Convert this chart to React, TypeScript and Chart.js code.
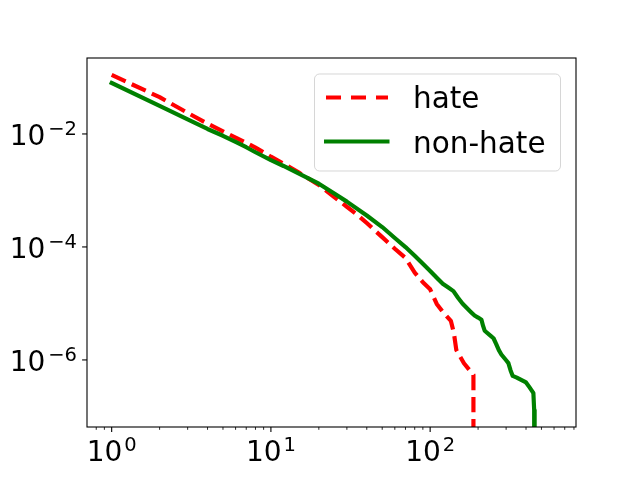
import { useEffect, useRef } from 'react';
import { Chart, registerables } from 'chart.js';

Chart.register(...registerables);

// a zero count: log axis cannot show it, so the line drops off the bottom
const ZERO = 1e-12;

const HATE_X = [1, 2, 3, 4, 5, 6, 7, 8, 10, 12, 15, 20, 25, 30, 35, 40, 50, 60, 70, 80, 90, 100, 110, 120, 135, 141, 146, 163, 187, 187];
const HATE_Y = [
  0.1107, 0.0448, 0.0236, 0.0152, 0.01116, 0.00863, 0.00698, 0.00572,
  0.00396, 0.00298, 0.00207, 0.00125, 7.64e-4, 5.15e-4, 3.68e-4, 2.65e-4,
  1.49e-4, 9.29e-5, 6.38e-5, 3.52e-5, 2.37e-5, 1.78e-5,
  9.8e-6, 7.08e-6, 4.9e-6, 2.97e-6, 1.5e-6, 8.75e-7, 5.43e-7, ZERO,
];

const NONHATE_X = [
  1, 2, 3, 4, 5, 6, 7, 8, 10, 12, 15, 20, 25, 30, 40, 50, 60, 70, 80, 90, 100,
  110, 120, 130, 140, 150, 160, 180, 190, 200, 210, 215, 220, 240, 250, 260, 270, 280,
  300, 310, 320, 330, 350, 400, 420, 440, 445, 450, 453,
];
const NONHATE_Y = [
  0.08, 0.0314, 0.0181, 0.01225, 0.00929, 0.00724, 0.00582, 0.00474,
  0.00343, 0.00271, 0.00198, 0.00132, 8.81e-4, 6.34e-4,
  3.6e-4, 2.25e-4, 1.44e-4, 9.95e-5, 6.98e-5, 5.02e-5, 3.76e-5,
  2.85e-5, 2.23e-5, 1.91e-5, 1.65e-5, 1.25e-5, 9.9e-6,
  7.08e-6, 6.11e-6, 5.62e-6, 5.14e-6, 4.0e-6, 3.29e-6,
  2.67e-6, 2.42e-6, 1.91e-6, 1.49e-6, 1.25e-6,
  9.85e-7, 8.77e-7, 6.52e-7, 5.21e-7, 4.86e-7,
  4.0e-7, 3.3e-7, 2.72e-7, 2.58e-7, 1.3e-7, ZERO,
];

const SERIES_LABELS = ['hate', 'non-hate'];

const X_MIN = 0.724;
const X_MAX = 824;
const Y_MIN = 6.5e-8;
const Y_MAX = 0.221;

const X_MAJOR = [1, 10, 100];
const X_EXP = ['0', '1', '2'];
const X_MINOR = [0.8, 0.9, 2, 3, 4, 5, 6, 7, 8, 9, 20, 30, 40, 50, 60, 70, 80, 90, 200, 300, 400, 500, 600, 700, 800];
const Y_MAJOR = [1e-2, 1e-4, 1e-6];
const Y_EXP = ['\u22122', '\u22124', '\u22126'];

const FAMILY = '"DejaVu Sans", sans-serif';
const BASE_FONT = `28px ${FAMILY}`;
const EXP_FONT = `19.5px ${FAMILY}`;
const LEGEND_FONT = `29.5px ${FAMILY}`;
const RED = '#ff0000';
const GREEN = '#008000';
const LW = 4.17;

const toPoints = (xs: number[], ys: number[]) => xs.map((x, i) => ({ x, y: ys[i] }));

const mplAxes = {
  id: 'mplAxes',
  afterDraw(chart: any) {
    const { ctx, chartArea: a, scales } = chart;
    const sx = scales.x;
    const sy = scales.y;
    ctx.save();

    // frame
    ctx.strokeStyle = '#000';
    ctx.lineWidth = 1.1;
    ctx.strokeRect(a.left, a.top, a.right - a.left, a.bottom - a.top);

    const seg = (x1: number, y1: number, x2: number, y2: number, w: number) => {
      ctx.lineWidth = w;
      ctx.beginPath();
      ctx.moveTo(x1, y1);
      ctx.lineTo(x2, y2);
      ctx.stroke();
    };
    X_MINOR.forEach((v) => {
      const px = sx.getPixelForValue(v);
      seg(px, a.bottom, px, a.bottom + 2.8, 0.85);
    });
    X_MAJOR.forEach((v) => {
      const px = sx.getPixelForValue(v);
      seg(px, a.bottom, px, a.bottom + 4.9, 1.1);
    });
    Y_MAJOR.forEach((v) => {
      const py = sy.getPixelForValue(v);
      seg(a.left, py, a.left - 4.9, py, 1.1);
    });

    // tick labels, 10 with a raised exponent
    ctx.fillStyle = '#000';
    ctx.textBaseline = 'alphabetic';
    ctx.textAlign = 'left';
    ctx.font = BASE_FONT;
    const wBase = ctx.measureText('10').width;
    X_MAJOR.forEach((v, i) => {
      const px = sx.getPixelForValue(v);
      ctx.font = EXP_FONT;
      const wExp = ctx.measureText(X_EXP[i]).width;
      const left = px - (wBase + 2 + wExp) / 2;
      ctx.font = BASE_FONT;
      ctx.fillText('10', left, a.bottom + 34);
      ctx.font = EXP_FONT;
      ctx.fillText(X_EXP[i], left + wBase + 2, a.bottom + 24);
    });
    Y_MAJOR.forEach((v, i) => {
      const py = sy.getPixelForValue(v);
      ctx.font = EXP_FONT;
      const wExp = ctx.measureText(Y_EXP[i]).width;
      const expLeft = a.left - 10 - wExp;
      ctx.fillText(Y_EXP[i], expLeft, py + 1);
      ctx.font = BASE_FONT;
      ctx.fillText('10', expLeft - 3 - wBase, py + 11);
    });

    // legend box
    const bx = 314.5, by = 74, bw = 246, bh = 97, r = 5;
    ctx.beginPath();
    ctx.roundRect(bx, by, bw, bh, r);
    ctx.fillStyle = 'rgba(255,255,255,0.8)';
    ctx.fill();
    ctx.lineWidth = 1;
    ctx.strokeStyle = 'rgba(204,204,204,0.8)';
    ctx.stroke();

    ctx.lineCap = 'butt';
    ctx.lineWidth = LW;
    ctx.strokeStyle = RED;
    ctx.setLineDash([15, 10]);
    ctx.beginPath();
    ctx.moveTo(326, 97.5);
    ctx.lineTo(388, 97.5);
    ctx.stroke();
    ctx.setLineDash([]);
    ctx.strokeStyle = GREEN;
    ctx.beginPath();
    ctx.moveTo(324, 141.5);
    ctx.lineTo(389.5, 141.5);
    ctx.stroke();

    ctx.fillStyle = '#000';
    ctx.font = LEGEND_FONT;
    ctx.fillText(SERIES_LABELS[0], 413, 108);
    ctx.fillText(SERIES_LABELS[1], 413, 152.5);
    ctx.restore();
  },
};

export default function App() {
  const canvasRef = useRef<HTMLCanvasElement>(null);

  useEffect(() => {
    const chart = new Chart(canvasRef.current!, {
      type: 'line',
      data: {
        datasets: [
          {
            label: SERIES_LABELS[0],
            data: toPoints(HATE_X, HATE_Y),
            borderColor: RED,
            borderWidth: LW,
            borderDash: [15.4, 6.7],
            borderCapStyle: 'butt',
            borderJoinStyle: 'round',
            pointRadius: 0,
            tension: 0,
            fill: false,
            order: 1,
            clip: { left: 5, top: 5, right: 5, bottom: 0 },
          },
          {
            label: SERIES_LABELS[1],
            data: toPoints(NONHATE_X, NONHATE_Y),
            borderColor: GREEN,
            borderWidth: LW,
            borderCapStyle: 'square',
            borderJoinStyle: 'round',
            pointRadius: 0,
            tension: 0,
            fill: false,
            order: 0,
            clip: { left: 5, top: 5, right: 5, bottom: 0 },
          },
        ],
      } as any,
      options: {
        animation: false,
        responsive: true,
        maintainAspectRatio: false,
        events: [],
        layout: { padding: { left: 87, top: 58, right: 64, bottom: 53 } },
        plugins: { legend: { display: false }, tooltip: { enabled: false } },
        scales: {
          x: { type: 'logarithmic', min: X_MIN, max: X_MAX, display: false },
          y: { type: 'logarithmic', min: Y_MIN, max: Y_MAX, display: false },
        },
      } as any,
      plugins: [mplAxes],
    });
    return () => chart.destroy();
  }, []);

  return (
    <div style={{ position: 'fixed', left: 0, top: 0, width: 640, height: 480, background: '#fff' }}>
      <canvas ref={canvasRef} />
    </div>
  );
}
